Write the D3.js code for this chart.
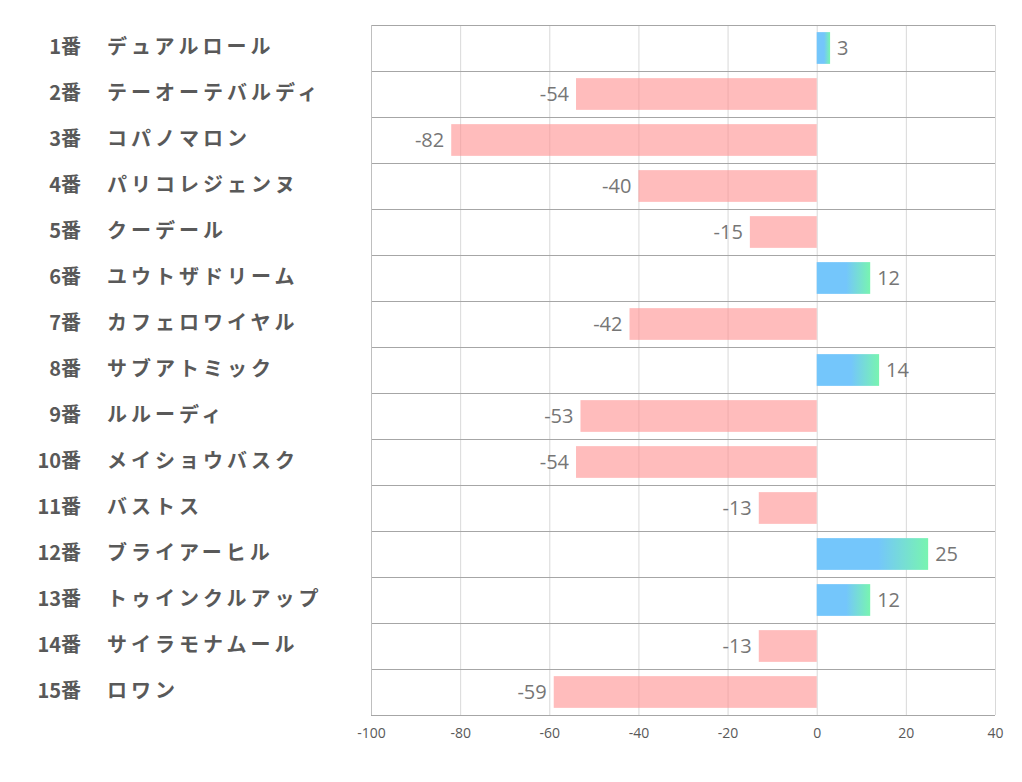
<!DOCTYPE html>
<html><head><meta charset="utf-8">
<script src="https://cdn.jsdelivr.net/npm/d3@7"></script>
<style>body{margin:0;background:#fff;} svg{display:block;}</style>
</head><body>
<svg id="c" width="1022" height="782"></svg>
<script>
const numbers = ["1番","2番","3番","4番","5番","6番","7番","8番","9番","10番","11番","12番","13番","14番","15番"];
const names = ["デュアルロール","テーオーテバルディ","コパノマロン","パリコレジェンヌ","クーデール","ユウトザドリーム","カフェロワイヤル","サブアトミック","ルルーディ","メイショウバスク","バストス","ブライアーヒル","トゥインクルアップ","サイラモナムール","ロワン"];
const values = [3,-54,-82,-40,-15,12,-42,14,-53,-54,-13,25,12,-13,-59];
const ticks = [-100,-80,-60,-40,-20,0,20,40];

const svg = d3.select("#c");
const L = 371, R = 995, T = 25, B = 715;
const x = d3.scaleLinear().domain([-100,40]).range([L,R]);
const y = d3.scaleBand().domain(d3.range(values.length)).range([T,B]).paddingInner(0.31).paddingOuter(0.155);
const rowH = (B-T)/values.length;

const defs = svg.append("defs");
const grad = defs.append("linearGradient").attr("id","pos").attr("x1","0").attr("x2","1").attr("y1","0").attr("y2","0");
grad.append("stop").attr("offset","0").attr("stop-color","#74c6fb");
grad.append("stop").attr("offset","0.55").attr("stop-color","#74c6fb");
grad.append("stop").attr("offset","1").attr("stop-color","#78f4b0");

// vertical gridlines
svg.append("g").selectAll("line").data(ticks).join("line")
  .attr("x1",d=>x(d)+0.5).attr("x2",d=>x(d)+0.5).attr("y1",T).attr("y2",B)
  .attr("stroke","#d9d9d9").attr("stroke-width",1);
// horizontal row lines
svg.append("g").selectAll("line").data(d3.range(values.length+1)).join("line")
  .attr("x1",L).attr("x2",R).attr("y1",d=>Math.round(T+d*rowH)+0.5).attr("y2",d=>Math.round(T+d*rowH)+0.5)
  .attr("stroke","#a6a6a6").attr("stroke-width",1);
// left border
svg.append("line").attr("x1",L+0.5).attr("x2",L+0.5).attr("y1",T).attr("y2",B).attr("stroke","#bfbfbf");

// bars
svg.append("g").selectAll("rect").data(values).join("rect")
  .attr("x",d=>x(Math.min(0,d))).attr("width",d=>Math.abs(x(d)-x(0)))
  .attr("y",(d,i)=>y(i)).attr("height",y.bandwidth())
  .attr("fill",d=>d>=0?"url(#pos)":"#ff8f8f")
  .attr("fill-opacity",d=>d>=0?1:0.6);

// value labels
svg.append("g").selectAll("text").data(values).join("text")
  .attr("x",d=>d>=0?x(d)+7:x(d)-7)
  .attr("y",(d,i)=>y(i)+y.bandwidth()/2)
  .attr("dy","0.36em")
  .attr("text-anchor",d=>d>=0?"start":"end")
  .attr("font-family","'Open Sans','Noto Sans',sans-serif").attr("font-size",20)
  .attr("fill","#767676")
  .text(d=>d);

// category labels
const cat = svg.append("g").attr("font-family","'Noto Sans CJK JP',sans-serif").attr("font-weight","bold").attr("font-size",20).attr("fill","#595959");
cat.selectAll("text.n").data(numbers).join("text").attr("class","n")
  .attr("x",81).attr("y",(d,i)=>T+i*rowH+rowH/2-1.5).attr("dy","0.36em").attr("text-anchor","end").text(d=>d);
cat.selectAll("text.m").data(names).join("text").attr("class","m")
  .attr("x",107).attr("y",(d,i)=>T+i*rowH+rowH/2-1.5).attr("dy","0.36em").attr("letter-spacing","4").text(d=>d);

// x axis
const ax = svg.append("g").attr("transform",`translate(0,${B})`)
  .call(d3.axisBottom(x).tickValues(ticks).tickSize(0).tickPadding(13).tickFormat(d=>String(d)));
ax.select(".domain").remove();
ax.selectAll("text").attr("font-family","'Open Sans','Noto Sans',sans-serif").attr("font-size",14).attr("fill","#595959");
</script>
</body></html>
